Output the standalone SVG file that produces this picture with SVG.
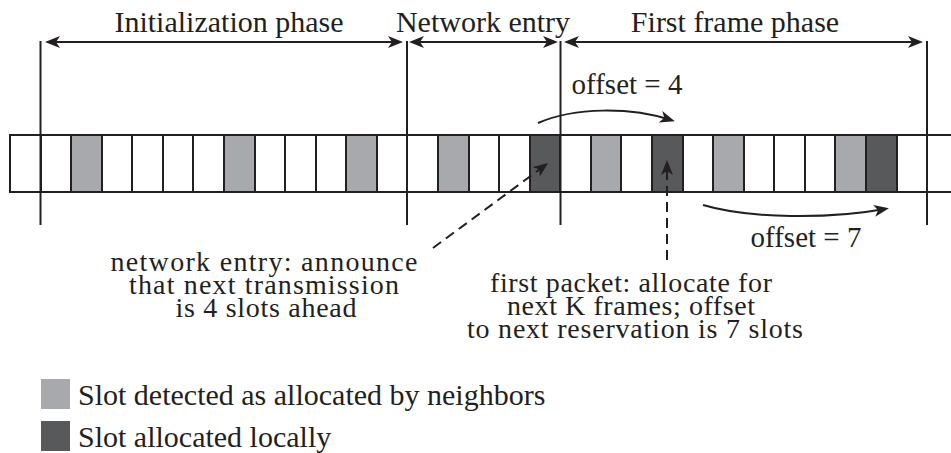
<svg xmlns="http://www.w3.org/2000/svg" width="951" height="453" viewBox="0 0 951 453">
<style>
text{font-family:'Liberation Serif','DejaVu Serif',serif;fill:#231f20}
.h{font-size:30px;text-anchor:middle}
.o{font-size:29px;text-anchor:middle}
.a{font-size:28px;text-anchor:middle}
.lg{font-size:30px}
.s{stroke:#231f20;stroke-width:2}
.w{fill:#fff}
.l{fill:#a7a9ac}
.d{fill:#58595b}
.ln{stroke:#231f20;stroke-width:2;fill:none}
.ds{stroke:#231f20;stroke-width:2;fill:none;stroke-dasharray:10 6}
</style>
<defs>
<marker id="ah" viewBox="-12 -7 17 14" refX="0" refY="0" markerWidth="17" markerHeight="14" markerUnits="userSpaceOnUse" orient="auto-start-reverse">
<path d="M4,0 L-11,-6 L-7,0 L-11,6 Z" fill="#231f20"/>
</marker>
</defs>
<g id="slots" class="s">
<rect class="w" x="10" y="135" width="31" height="57"/>
<rect class="w" x="41" y="135" width="30" height="57"/>
<rect class="l" x="71" y="135" width="31" height="57"/>
<rect class="w" x="102" y="135" width="30" height="57"/>
<rect class="w" x="132" y="135" width="31" height="57"/>
<rect class="w" x="163" y="135" width="30" height="57"/>
<rect class="w" x="193" y="135" width="31" height="57"/>
<rect class="l" x="224" y="135" width="31" height="57"/>
<rect class="w" x="255" y="135" width="30" height="57"/>
<rect class="w" x="285" y="135" width="31" height="57"/>
<rect class="w" x="316" y="135" width="30" height="57"/>
<rect class="l" x="346" y="135" width="31" height="57"/>
<rect class="w" x="377" y="135" width="30" height="57"/>
<rect class="w" x="407" y="135" width="31" height="57"/>
<rect class="l" x="438" y="135" width="31" height="57"/>
<rect class="w" x="469" y="135" width="30" height="57"/>
<rect class="w" x="499" y="135" width="31" height="57"/>
<rect class="d" x="530" y="135" width="30" height="57"/>
<rect class="w" x="560" y="135" width="31" height="57"/>
<rect class="l" x="591" y="135" width="30" height="57"/>
<rect class="w" x="621" y="135" width="31" height="57"/>
<rect class="d" x="652" y="135" width="31" height="57"/>
<rect class="w" x="683" y="135" width="30" height="57"/>
<rect class="l" x="713" y="135" width="31" height="57"/>
<rect class="w" x="744" y="135" width="30" height="57"/>
<rect class="w" x="774" y="135" width="31" height="57"/>
<rect class="w" x="805" y="135" width="30" height="57"/>
<rect class="l" x="835" y="135" width="31" height="57"/>
<rect class="d" x="866" y="135" width="31" height="57"/>
<rect class="w" x="897" y="135" width="30" height="57"/>
<rect class="w" x="927" y="135" width="31" height="57"/>
</g>
<g id="phase-bounds" class="s">
<line x1="40.5" y1="41" x2="40.5" y2="225"/>
<line x1="407" y1="41" x2="407" y2="225"/>
<line x1="560.5" y1="41" x2="560.5" y2="225"/>
<line x1="927" y1="41" x2="927" y2="225"/>
</g>
<g id="phase-labels">
<text class="h" x="229" y="32" font-family="Liberation Serif, serif">Initialization phase</text>
<text class="h" x="483" y="32" font-family="Liberation Serif, serif">Network entry</text>
<text class="h" x="735" y="32" font-family="Liberation Serif, serif">First frame phase</text>
</g>
<g id="connectors">
<line class="ln" x1="49" y1="42" x2="399" y2="42" marker-start="url(#ah)" marker-end="url(#ah)"/>
<line class="ln" x1="413" y1="42" x2="554" y2="42" marker-start="url(#ah)" marker-end="url(#ah)"/>
<line class="ln" x1="568" y1="42" x2="919" y2="42" marker-start="url(#ah)" marker-end="url(#ah)"/>
<path class="ln" d="M538,123 C575,107 630,107 671,120" marker-end="url(#ah)"/>
<path class="ln" d="M703,205 C750,219 830,219 885,209" marker-end="url(#ah)"/>
<line class="ds" x1="433" y1="248" x2="545" y2="165.4" marker-end="url(#ah)"/>
<line class="ds" x1="667" y1="260" x2="667" y2="164" marker-end="url(#ah)"/>
</g>
<g id="offset-labels">
<text class="o" x="627" y="94">offset = 4</text>
<text class="o" x="806" y="247">offset = 7</text>
</g>
<g id="note-entry">
<text class="a" x="264" y="271" textLength="307" lengthAdjust="spacing">network entry: announce</text>
<text class="a" x="264" y="294" textLength="270" lengthAdjust="spacing">that next transmission</text>
<text class="a" x="266" y="317" textLength="181" lengthAdjust="spacing">is 4 slots ahead</text>
</g>
<g id="note-first">
<text class="a" x="631" y="292" textLength="282" lengthAdjust="spacing">first packet: allocate for</text>
<text class="a" x="631" y="315" textLength="248" lengthAdjust="spacing">next K frames; offset</text>
<text class="a" x="635" y="338" textLength="336" lengthAdjust="spacing">to next reservation is 7 slots</text>
</g>
<g id="legend">
<rect class="l" x="41" y="379" width="29" height="30"/>
<text class="lg" x="78" y="405">Slot detected as allocated by neighbors</text>
<rect class="d" x="41" y="421" width="29" height="30"/>
<text class="lg" x="78" y="447">Slot allocated locally</text>
</g>
</svg>
